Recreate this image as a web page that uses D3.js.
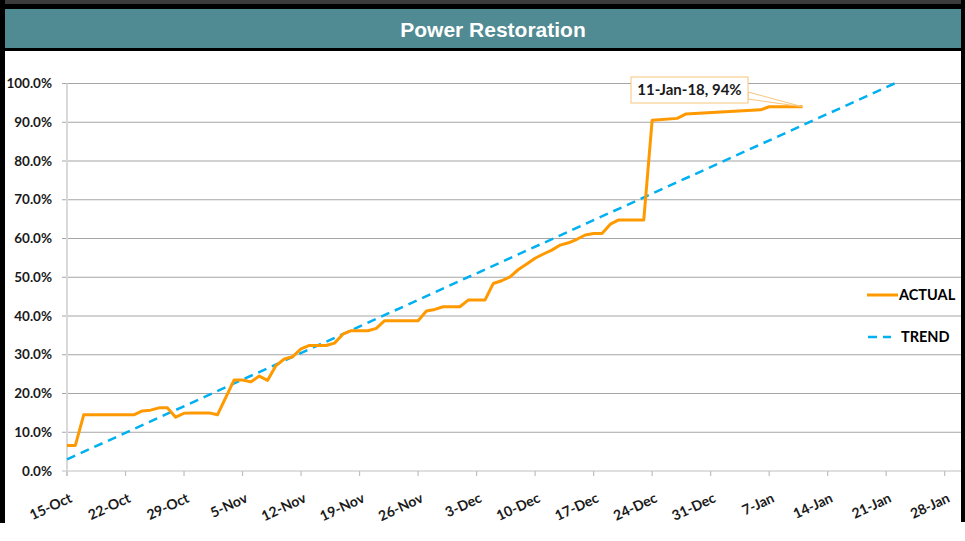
<!DOCTYPE html>
<html lang="en">
<head>
  <meta charset="UTF-8">
  <title>Power Restoration</title>
  <style>
    body {
      margin: 0;
      padding: 0;
      background-color: #ffffff;
      font-family: 'Lato', 'Liberation Sans', sans-serif;
    }
    svg { display: block; }
    .tick-label { font-size: 13.5px; font-weight: 700; fill: #1a1a1a; }
    .legend-text { font-size: 14.5px; font-weight: 700; fill: #000; }
  </style>
</head>
<body>

<svg width="965" height="541"></svg>

<script src="https://d3js.org/d3.v7.min.js"></script>
<script>
  const width = 965, height = 541;
  const parse = d3.timeParse("%Y-%m-%d");

  // ACTUAL series (percent restored)
  const actualDates = [
    "2017-10-15", "2017-10-16", "2017-10-17", "2017-10-23", "2017-10-24", "2017-10-25",
    "2017-10-26", "2017-10-27", "2017-10-28", "2017-10-29", "2017-10-30", "2017-11-01",
    "2017-11-02", "2017-11-04", "2017-11-05", "2017-11-06", "2017-11-07", "2017-11-08",
    "2017-11-09", "2017-11-10", "2017-11-11", "2017-11-12", "2017-11-13", "2017-11-14",
    "2017-11-15", "2017-11-16", "2017-11-17", "2017-11-18", "2017-11-20", "2017-11-21",
    "2017-11-22", "2017-11-26", "2017-11-27", "2017-11-28", "2017-11-29", "2017-12-01",
    "2017-12-02", "2017-12-04", "2017-12-05", "2017-12-06", "2017-12-07", "2017-12-08",
    "2017-12-09", "2017-12-10", "2017-12-11", "2017-12-12", "2017-12-13", "2017-12-14",
    "2017-12-15", "2017-12-16", "2017-12-17", "2017-12-18", "2017-12-19", "2017-12-20",
    "2017-12-23", "2017-12-24", "2017-12-27", "2017-12-28", "2018-01-06", "2018-01-07",
    "2018-01-11"
  ];
  const actualValues = [
    6.6, 6.6, 14.5, 14.5, 15.5, 15.7,
    16.3, 16.3, 13.9, 14.9, 15.0, 15.0,
    14.5, 23.5, 23.5, 23.0, 24.5, 23.4,
    27.2, 28.9, 29.5, 31.5, 32.4, 32.4,
    32.4, 33.0, 35.3, 36.2, 36.2, 36.8,
    38.8, 38.8, 41.3, 41.7, 42.4, 42.4,
    44.1, 44.1, 48.4, 49.1, 50.1, 52.0,
    53.4, 54.9, 56.0, 57.0, 58.3, 58.9,
    59.8, 60.9, 61.3, 61.3, 63.7, 64.8,
    64.8, 90.5, 91.0, 92.1, 93.2, 94.0,
    94.0
  ];

  // TREND line endpoints
  const trendDates = ["2017-10-15", "2018-01-22"];
  const trendValues = [3.0, 100.0];

  const yTicks = [0, 10, 20, 30, 40, 50, 60, 70, 80, 90, 100];
  const xTickStart = "2017-10-15", xTickEnd = "2018-01-28";

  const annotationDate = "2018-01-11", annotationValue = 94.0;
  const annotationText = "11-Jan-18, 94%";

  const actual = actualDates.map((d, i) => ({ date: parse(d), value: actualValues[i] }));
  const trend = trendDates.map((d, i) => ({ date: parse(d), value: trendValues[i] }));

  const x = d3.scaleTime()
    .domain([parse(xTickStart), parse(xTickEnd)])
    .range([67, 944.7]);
  const y = d3.scaleLinear().domain([0, 100]).range([471, 83.5]);

  const svg = d3.select("svg").attr("viewBox", `0 0 ${width} ${height}`);

  // frame + title bar
  svg.append("rect").attr("x", 0).attr("y", 0).attr("width", width).attr("height", 4).attr("fill", "#3a3a3a");
  svg.append("rect").attr("x", 0).attr("y", 4).attr("width", width).attr("height", 47).attr("fill", "#000");
  svg.append("rect").attr("x", 5).attr("y", 9).attr("width", width - 5).attr("height", 39).attr("fill", "#508a92");
  svg.append("rect").attr("x", 0).attr("y", 0).attr("width", 5).attr("height", 523).attr("fill", "#000");
  svg.append("rect").attr("x", 961).attr("y", 0).attr("width", 4).attr("height", 522).attr("fill", "#000");

  svg.append("text")
    .attr("x", 493).attr("y", 29)
    .attr("text-anchor", "middle").attr("dominant-baseline", "central")
    .style("font-family", "'Liberation Sans', Arial, sans-serif")
    .style("font-size", "21px").style("font-weight", "700")
    .attr("fill", "#fff")
    .text("Power Restoration");

  // gridlines + y labels
  const grid = svg.append("g");
  yTicks.forEach(t => {
    grid.append("line")
      .attr("x1", 62).attr("x2", 961)
      .attr("y1", y(t)).attr("y2", y(t))
      .attr("stroke", t === 0 ? "#bfbfbf" : "#a6a6a6").attr("stroke-width", 1.2);
    grid.append("text")
      .attr("class", "tick-label")
      .attr("x", 52).attr("y", y(t))
      .attr("text-anchor", "end").attr("dy", "0.35em")
      .text(t.toFixed(1) + "%");
  });

  // y axis line
  svg.append("line")
    .attr("x1", x.range()[0]).attr("x2", x.range()[0])
    .attr("y1", y(100)).attr("y2", y(0) + 5)
    .attr("stroke", "#d9d9d9").attr("stroke-width", 2);

  // x ticks + labels
  const xTicks = d3.timeDay.range(parse(xTickStart), d3.timeDay.offset(parse(xTickEnd), 1), 7);
  const fmt = d3.timeFormat("%-d-%b");
  const xg = svg.append("g");
  xTicks.forEach(d => {
    xg.append("line")
      .attr("x1", x(d)).attr("x2", x(d))
      .attr("y1", y(0)).attr("y2", y(0) + 5)
      .attr("stroke", "#bfbfbf").attr("stroke-width", 1.2);
    xg.append("text")
      .attr("class", "tick-label")
      .style("font-size", "14px")
      .attr("transform", `translate(${x(d) + 4},${y(0) + 26}) rotate(-25)`)
      .attr("text-anchor", "end").attr("dy", "0.35em")
      .text(fmt(d));
  });

  const line = d3.line().x(d => x(d.date)).y(d => y(d.value));

  svg.append("path")
    .datum(trend)
    .attr("d", line)
    .attr("fill", "none")
    .attr("stroke", "#00b0f0").attr("stroke-width", 2.5)
    .attr("stroke-dasharray", "9,6");

  svg.append("path")
    .datum(actual)
    .attr("d", line)
    .attr("fill", "none")
    .attr("stroke", "#ff9900").attr("stroke-width", 3)
    .attr("stroke-linejoin", "round");

  // annotation callout
  const ax = x(parse(annotationDate)), ay = y(annotationValue);
  const box = { x: 631, y: 77, w: 117, h: 26 };
  svg.append("path")
    .attr("d", `M${box.x + box.w},${box.y + 15} L${ax},${ay} L${box.x + box.w},${box.y + 22} Z`)
    .attr("fill", "#fff").attr("stroke", "#f9c47c").attr("stroke-width", 1);
  svg.append("rect")
    .attr("x", box.x).attr("y", box.y).attr("width", box.w).attr("height", box.h)
    .attr("fill", "#fff").attr("stroke", "#f9c47c").attr("stroke-width", 1);
  svg.append("text")
    .attr("x", box.x + box.w / 2).attr("y", box.y + box.h / 2)
    .attr("text-anchor", "middle").attr("dy", "0.35em")
    .style("font-size", "15px").style("font-weight", "700").attr("fill", "#1a1a1a")
    .text(annotationText);

  // legend
  const legend = svg.append("g");
  legend.append("line")
    .attr("x1", 867).attr("x2", 898).attr("y1", 295).attr("y2", 295)
    .attr("stroke", "#ff9900").attr("stroke-width", 3);
  legend.append("text").attr("class", "legend-text")
    .attr("x", 899).attr("y", 295).attr("dy", "0.35em").text("ACTUAL");
  legend.append("line")
    .attr("x1", 868).attr("x2", 891).attr("y1", 337).attr("y2", 337)
    .attr("stroke", "#00b0f0").attr("stroke-width", 2.5)
    .attr("stroke-dasharray", "9,6");
  legend.append("text").attr("class", "legend-text")
    .attr("x", 901).attr("y", 337).attr("dy", "0.35em").text("TREND");
</script>

</body>
</html>
